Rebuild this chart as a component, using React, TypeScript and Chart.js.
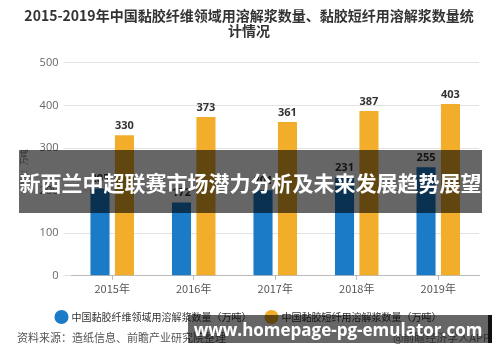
import React, { useEffect, useRef } from "react";
import { Chart, registerables } from "chart.js";

Chart.register(...registerables);

const titleLines = [
  "2015-2019年中国黏胶纤维领域用溶解浆数量、黏胶短纤用溶解浆数量统",
  "计情况",
];
const categories = ["2015年", "2016年", "2017年", "2018年", "2019年"];
const fiberValues = [205, 172, 201, 231, 255];
const stapleValues = [330, 373, 361, 387, 403];
const seriesNames = [
  "中国黏胶纤维领域用溶解浆数量（万吨）",
  "中国黏胶短纤用溶解浆数量（万吨）",
];
const yAxisTitle = "单位：万吨";
const sourceText = "资料来源：造纸信息、前瞻产业研究院整理";
const creditText = "@前瞻经济学人APP";
const bannerText = "新西兰中超联赛市场潜力分析及未来发展趋势展望";
const urlText = "www.homepage-pg-emulator.com";

const BLUE = "#1B7BC6";
const ORANGE = "#F2AE2A";
const FONT = "'Noto Sans CJK SC', 'Noto Sans', sans-serif";

const valueLabels = {
  id: "valueLabels",
  afterDatasetsDraw(chart: any) {
    const ctx = chart.ctx;
    ctx.save();
    ctx.font = "bold 11px 'Open Sans', sans-serif";
    ctx.fillStyle = "#333";
    ctx.textAlign = "center";
    ctx.textBaseline = "bottom";
    chart.data.datasets.forEach((ds: any, i: number) => {
      const meta = chart.getDatasetMeta(i);
      meta.data.forEach((el: any, j: number) => {
        ctx.fillText(String(ds.data[j]), el.x, el.y - 4);
      });
    });
    ctx.restore();
  },
};

export default function App() {
  const ref = useRef<HTMLCanvasElement | null>(null);

  useEffect(() => {
    if (!ref.current) return;
    const chart = new Chart(ref.current, {
      type: "bar",
      data: {
        labels: categories,
        datasets: [
          {
            label: seriesNames[0],
            data: fiberValues,
            backgroundColor: BLUE,
            categoryPercentage: 0.6,
            barPercentage: 0.78,
          },
          {
            label: seriesNames[1],
            data: stapleValues,
            backgroundColor: ORANGE,
            categoryPercentage: 0.6,
            barPercentage: 0.78,
          },
        ],
      },
      options: {
        animation: false,
        responsive: false,
        maintainAspectRatio: false,
        layout: { padding: { left: 19, right: 21, top: 0, bottom: 30 } },
        plugins: {
          title: {
            display: true,
            text: titleLines,
            color: "#333",
            font: { family: FONT, size: 14, weight: "bold", lineHeight: 1.1 },
            padding: { top: 8, bottom: 24 },
          },
          legend: {
            position: "bottom",
            labels: {
              usePointStyle: true,
              pointStyle: "circle",
              boxWidth: 10,
              boxHeight: 10,
              padding: 15,
              color: "#333",
              font: { family: FONT, size: 10 },
            },
          },
          tooltip: { enabled: false },
        },
        scales: {
          x: {
            grid: {
              display: true,
              drawOnChartArea: false,
              offset: false,
              tickLength: 4,
              color: "#bbb",
            },
            border: { display: true, color: "#bbb" },
            ticks: { color: "#555", font: { family: FONT, size: 11 }, padding: 2 },
          },
          y: {
            min: 0,
            max: 500,
            ticks: {
              stepSize: 100,
              color: "#666",
              padding: 5,
              font: { family: "'Open Sans', sans-serif", size: 11 },
            },
            grid: { color: "#e2e2e2", tickLength: 8 },
            border: { display: false },
            title: {
              display: true,
              text: yAxisTitle,
              color: "#777",
              font: { family: FONT, size: 8 },
              padding: { top: 0, bottom: 6 },
            },
          },
        },
      },
      plugins: [valueLabels],
    } as any);
    return () => chart.destroy();
  }, []);

  return (
    <div style={{ position: "absolute", left: 0, top: 0, width: 500, height: 362, background: "#fff", overflow: "hidden" }}>
      <canvas ref={ref} width={500} height={362} style={{ display: "block" }} />
      <div style={{ position: "absolute", left: 17, top: 329, fontFamily: FONT, fontSize: 11, color: "#555", whiteSpace: "nowrap" }}>
        {sourceText}
      </div>
      <div style={{ position: "absolute", right: 10, top: 329, fontFamily: FONT, fontSize: 11, color: "#777", whiteSpace: "nowrap" }}>
        {creditText}
      </div>
      <div
        style={{
          position: "absolute",
          left: 19,
          top: 150,
          width: 463,
          height: 63,
          background: "rgba(0,0,0,0.6)",
          color: "#fff",
          fontFamily: FONT,
          fontWeight: "bold",
          fontSize: 21,
          display: "flex",
          alignItems: "center",
          justifyContent: "center",
          whiteSpace: "nowrap",
        }}
      >
        {bannerText}
      </div>
      <div
        style={{
          position: "absolute",
          left: 188,
          top: 315,
          width: 300,
          height: 28,
          background: "rgba(0,0,0,0.6)",
          borderRight: "4px solid #111",
          color: "#fff",
          fontFamily: "'Open Sans', sans-serif",
          fontWeight: "bold",
          fontSize: 17,
          display: "flex",
          alignItems: "center",
          justifyContent: "center",
          whiteSpace: "nowrap",
        }}
      >
        {urlText}
      </div>
    </div>
  );
}
